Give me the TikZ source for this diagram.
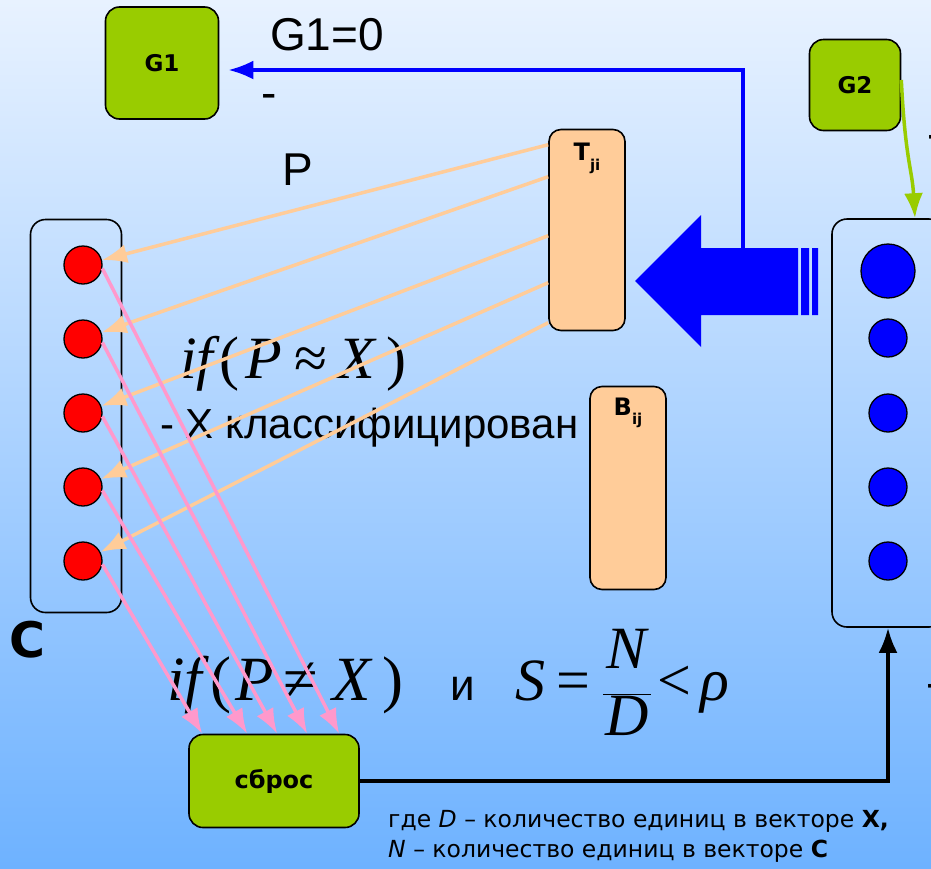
\documentclass[tikz,border=0pt]{standalone}
\usepackage{fontspec}
\setmainfont{Liberation Sans}
\newfontfamily\dvs{DejaVu Sans}
\newfontfamily\tnr{Liberation Serif}
\usetikzlibrary{arrows.meta}

\definecolor{gcol}{RGB}{153,204,0}
\definecolor{peach}{RGB}{255,204,153}
\definecolor{pinkl}{RGB}{255,153,204}
\definecolor{bgtop}{RGB}{232,242,255}
\definecolor{bgmid}{RGB}{178,214,252}
\definecolor{bgbot}{RGB}{110,178,255}

\newcommand{\tmi}[1]{{\tnr\itshape #1}}
\newcommand{\tmr}[1]{{\tnr #1}}

\begin{document}
\begin{tikzpicture}[x=1pt, y=-1pt, >={Latex[length=25pt,width=19pt]}]
    \tikzstyle{gbox}=[draw, line width=1.6pt, rounded corners=14pt, fill=gcol, font=\dvs\bfseries\fontsize{23}{23}\selectfont]
    \tikzstyle{wbox}=[draw, line width=1.6pt, rounded corners=12pt, fill=peach]
    \tikzstyle{wlabel}=[anchor=north, inner sep=0pt, font=\dvs\bfseries\fontsize{24}{24}\selectfont]
    \tikzstyle{layer}=[draw, line width=1.6pt, rounded corners=15pt]
    \tikzstyle{rneuron}=[draw, line width=1.3pt, circle, fill=red, minimum size=38pt, inner sep=0pt]
    \tikzstyle{bneuron}=[rneuron, fill=blue]
    \tikzstyle{big}=[font=\fontsize{46}{50}\selectfont, anchor=base west, inner sep=0pt]
    \tikzstyle{formula}=[font=\fontsize{60}{66}\selectfont, anchor=base west, inner sep=0pt]
    \tikzstyle{note}=[font=\dvs\fontsize{23.5}{30}\selectfont, anchor=base west, inner sep=0pt]
    \tikzstyle{tline}=[peach, line width=3.5pt, ->]
    \tikzstyle{pline}=[pinkl, line width=3.5pt, ->]

    % background
    \clip (0,0) rectangle (931,868);
    \shade[top color=bgtop, middle color=bgmid, bottom color=bgbot] (0,0) rectangle (931,868);

    % draw boxes
    \node [gbox, minimum width=113pt, minimum height=112pt] (g1) at (162,63) {G1};
    \node [gbox, minimum width=91pt, minimum height=91pt] (g2) at (855,85) {G2};
    \node [gbox, minimum width=170pt, minimum height=93pt, font=\dvs\bfseries\fontsize{24}{24}\selectfont] (sbros) at (274,781) {сброс};

    \node [wbox, minimum width=76pt, minimum height=201pt,
           label={[wlabel, yshift=-14pt]north:T\raisebox{-10pt}{\fontsize{15}{15}\selectfont ji}}] (tji) at (587,230) {};
    \node [wbox, minimum width=76pt, minimum height=203pt,
           label={[wlabel, yshift=-12pt]north:B\raisebox{-9pt}{\fontsize{15}{15}\selectfont ij}}] (bij) at (628,488) {};

    \node [layer, minimum width=91pt, minimum height=393pt] (lbox) at (76,416) {};
    \node [layer, minimum width=112pt, minimum height=408pt] (rbox) at (888,423) {};

    % draw neurons
    \foreach \y [count=\i] in {265,339,413,487,561}
    \node [rneuron] (c-\i) at (83,\y) {};

    \node [bneuron, minimum size=54pt] (b-1) at (888,271) {};
    \foreach \y [count=\i from 2] in {338,413,487,561}
    \node [bneuron] (b-\i) at (888,\y) {};

    % wide arrow
    \fill [blue] (635,281) -- (701,215) -- (701,248) -- (798,248) -- (798,315)
                 -- (701,315) -- (701,347) -- cycle;
    \fill [blue] (801,248) rectangle (809,315) (812,248) rectangle (818,315);
    \coordinate (bstart) at (743,248);

    % draw text
    \node [big] (gzero) at (270,50) {G1=0};
    \node [big] (minus) at (261,108) {-};
    \node [big] (plab) at (282,185) {P};
    \node [big] (minus2) at (927,149) {-};
    \node [big] (minus3) at (926,698) {-};
    \node [font=\dvs\bfseries\fontsize{49}{50}\selectfont, inner sep=0pt] (clab) at (27,640) {C};

    \node [formula] (approx) at (180,378)
      {\tmi{if}\hspace{6pt}\tmr{(}\hspace{6pt}\tmi{P}\hspace{12pt}\tmr{≈}\hspace{11pt}\tmi{X}\hspace{12pt}\tmr{)}};
    \node [big, font=\fontsize{42}{50}\selectfont] (classified) at (160,438) {- X классифицирован};

    \node [formula, font=\fontsize{63}{66}\selectfont] (neq) at (167,700)
      {\tmi{if}\hspace{8pt}\tmr{(}\hspace{4pt}\tmi{P}\hspace{10pt}\tmr{≠}\hspace{14pt}\tmi{X}\hspace{12pt}\tmr{)}};
    \node [big, font=\fontsize{44}{50}\selectfont] (andlab) at (450,700) {и};
    \node [formula] (ratio) at (515,700)
      {$\displaystyle\mbox{\tmi{S}}\hspace{11pt}\mbox{\tmr{=}}\hspace{12pt}%
        \frac{\mbox{\rule[-24pt]{0pt}{24pt}\tmi{N}}}{\mbox{\rule{0pt}{40pt}\hspace{2pt}\tmi{D}\hspace{2pt}}}%
        \hspace{6pt}\mbox{\tmr{<}}\hspace{9pt}\mbox{\tmi{ρ}}$};

    \node [note] (note1) at (388,827) {где \textit{D} – количество единиц в векторе \textbf{X,}};
    \node [note] (note2) at (388,857) {\textit{N} – количество единиц в векторе \textbf{C}};

    % draw lines
    \draw [blue, line width=3.5pt, ->, shorten >=9pt] (bstart) |- ([yshift=-7pt]g1.east);
    \draw [gcol, line width=3.5pt, ->] ([yshift=5pt]g2.east) .. controls +(4,80) and +(-3,-50) .. ([xshift=27pt]rbox.north);
    \draw [line width=3.5pt, ->] (sbros.east) -| (rbox.south);

    \foreach \d [count=\i] in {16,48,107,154,194}
    \draw [tline] ([yshift=-\d pt]tji.north west) -- (c-\i);

    \foreach \d [count=\i] in {151,119,89,59,14}
    \draw [pline] (c-\i.-10) -- ([xshift=\d pt]sbros.north west);

\end{tikzpicture}
\end{document}
